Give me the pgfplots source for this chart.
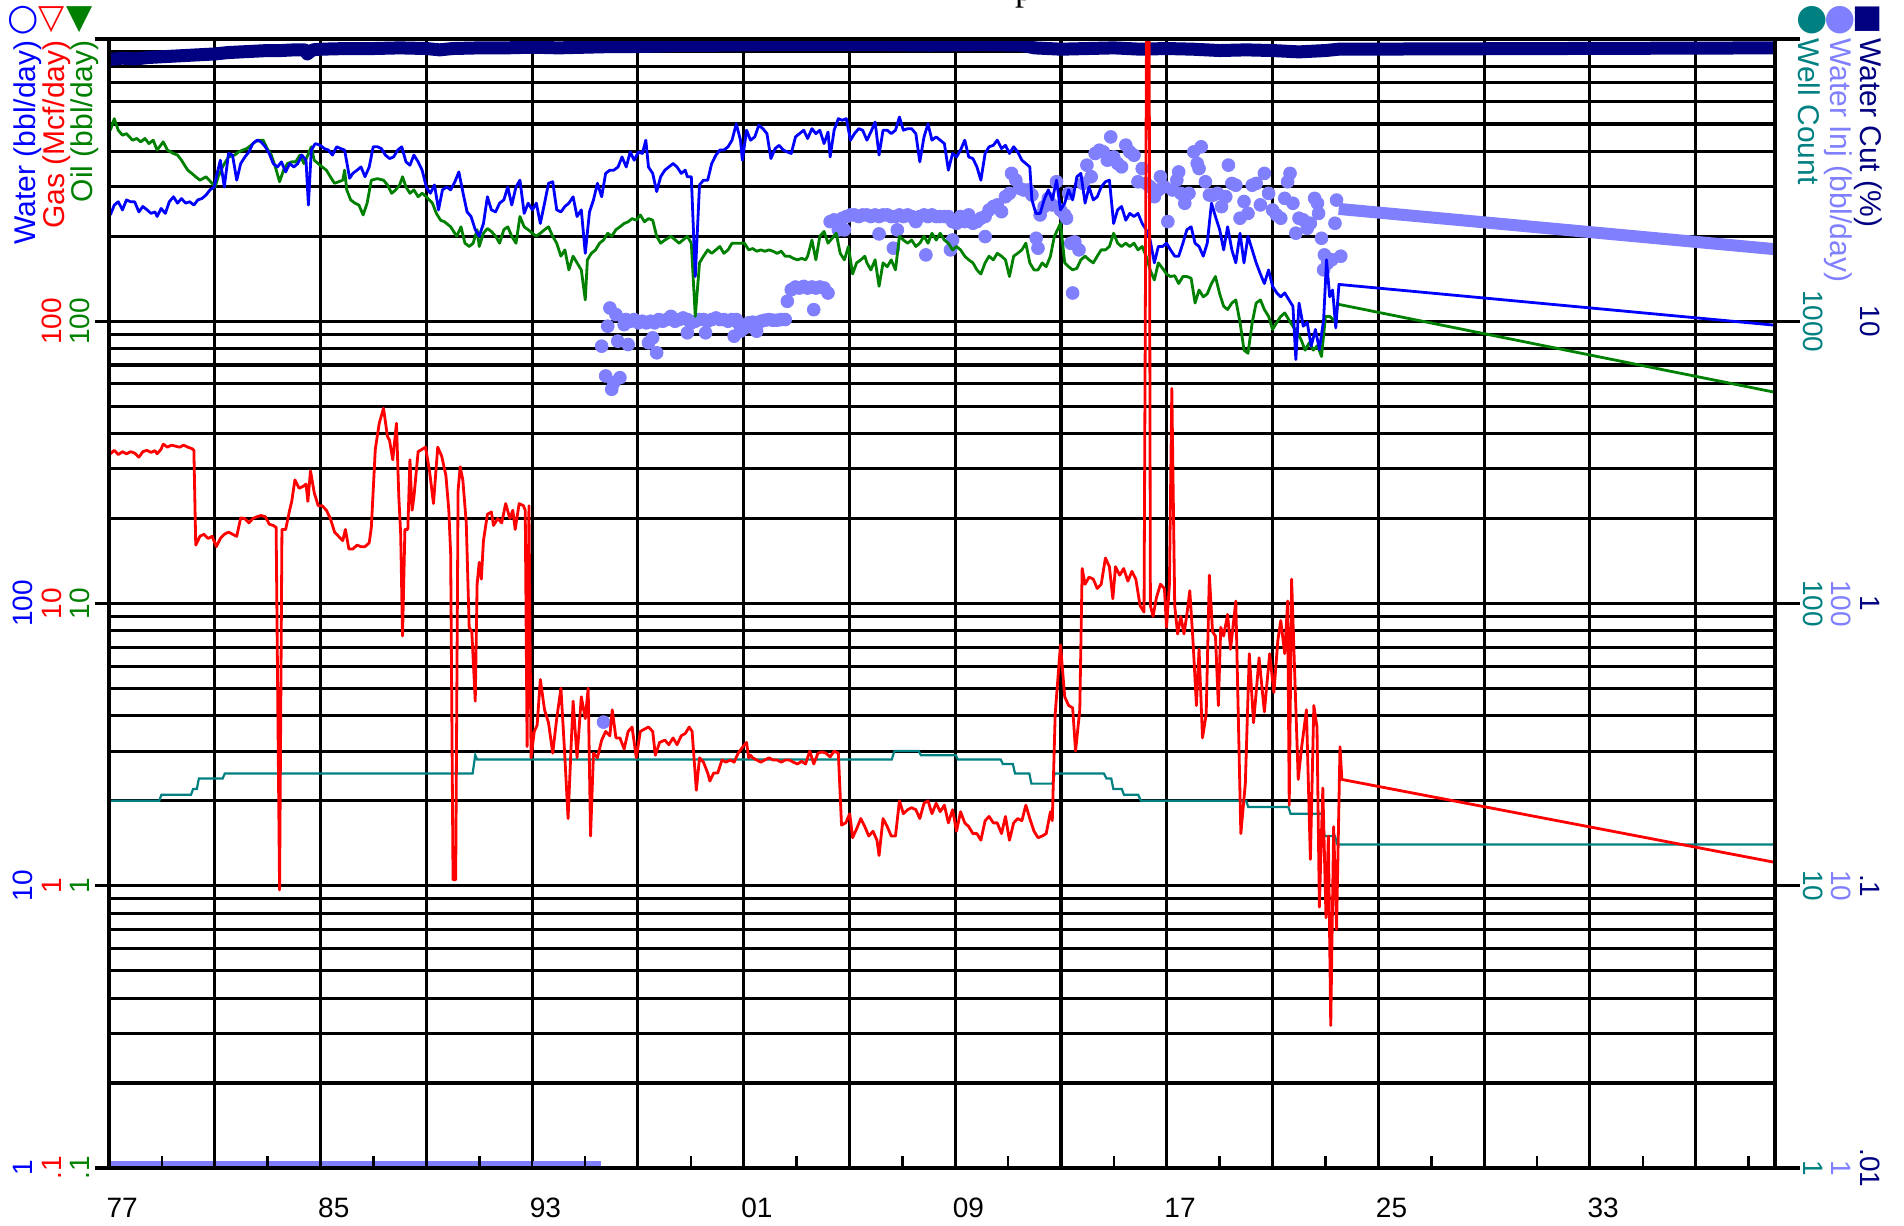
\documentclass[border=0pt]{standalone}
\usepackage{fontspec}
\setmainfont{Liberation Sans}
\newfontfamily\symfont{DejaVu Sans}
\newfontfamily\seriffont{Liberation Serif}
\usepackage{pgfplots}
\usepackage{pgfplotstable}
\pgfplotsset{compat=1.18}

\definecolor{watercol}{RGB}{0,0,255}
\definecolor{gascol}{RGB}{255,0,0}
\definecolor{oilcol}{RGB}{0,128,0}
\definecolor{cutcol}{RGB}{0,0,128}
\definecolor{wellcol}{RGB}{0,128,128}
\definecolor{injcol}{RGB}{128,128,255}

% ---------- production history (year, rate) ----------
\pgfplotstableread{
yr v
1977.05 475
1977.20 522
1977.35 475
1977.51 456
1977.66 462
1977.89 438
1978.05 444
1978.20 432
1978.36 444
1978.51 426
1978.67 438
1978.82 404
1979.05 432
1979.21 404
1979.44 393
1979.59 388
1979.74 372
1979.90 352
1979.98 343
1980.13 334
1980.28 325
1980.44 316
1980.67 325
1980.90 308
1981.01 299
1981.13 325
1981.29 352
1981.52 382
1981.75 388
1981.90 398
1982.06 404
1982.21 409
1982.37 420
1982.52 432
1982.67 438
1982.83 438
1982.98 409
1983.14 388
1983.29 352
1983.45 312
1983.60 343
1983.75 362
1983.91 367
1984.06 367
1984.22 388
1984.37 362
1984.52 388
1984.65 415
1984.76 372
1984.91 362
1985.06 352
1985.22 343
1985.37 325
1985.53 308
1985.68 312
1985.84 316
1985.91 343
1985.99 292
1986.14 269
1986.30 262
1986.45 258
1986.61 238
1986.76 262
1986.92 316
1987.15 320
1987.38 316
1987.53 304
1987.69 284
1987.84 292
1987.99 304
1988.10 325
1988.23 299
1988.38 284
1988.53 292
1988.69 276
1988.84 284
1989.00 276
1989.23 262
1989.38 241
1989.54 228
1989.69 225
1989.92 216
1990.15 200
1990.31 216
1990.46 189
1990.62 184
1990.77 189
1990.92 211
1991.00 184
1991.16 205
1991.31 213
1991.46 208
1991.62 200
1991.77 189
1991.93 211
1992.08 216
1992.23 200
1992.39 189
1992.54 235
1992.70 216
1992.85 211
1993.01 205
1993.16 200
1993.31 205
1993.47 211
1993.62 216
1993.78 200
1993.93 189
1994.09 170
1994.24 179
1994.39 152
1994.55 170
1994.70 161
1994.86 152
1995.01 119
1995.09 165
1995.24 174
1995.40 179
1995.55 189
1995.70 194
1995.86 205
1996.01 200
1996.17 211
1996.32 216
1996.48 222
1996.63 225
1996.78 231
1996.94 228
1997.09 238
1997.25 225
1997.40 231
1997.56 228
1997.71 200
1997.86 189
1998.02 194
1998.25 200
1998.56 189
1998.87 200
1999.02 189
1999.17 104
1999.33 161
1999.48 170
1999.64 179
1999.79 174
1999.95 179
2000.10 184
2000.25 174
2000.41 179
2000.56 189
2000.79 189
2001.03 189
2001.19 179
2001.34 181
2001.49 177
2001.65 179
2001.80 177
2001.96 179
2002.11 177
2002.26 174
2002.42 177
2002.57 170
2002.73 170
2002.88 167
2003.04 165
2003.19 167
2003.34 165
2003.42 170
2003.58 194
2003.73 165
2003.88 200
2004.04 208
2004.19 189
2004.35 197
2004.50 205
2004.65 174
2004.81 165
2004.96 184
2005.12 147
2005.27 161
2005.43 165
2005.58 170
2005.66 161
2005.81 152
2005.97 165
2006.12 133
2006.27 161
2006.43 156
2006.58 165
2006.74 152
2006.89 200
2007.04 194
2007.20 189
2007.35 194
2007.51 184
2007.66 189
2007.82 200
2007.97 189
2008.12 205
2008.28 194
2008.43 205
2008.59 194
2008.74 189
2008.90 179
2009.05 184
2009.20 179
2009.36 170
2009.51 165
2009.67 161
2009.82 152
2009.97 147
2010.13 161
2010.28 170
2010.44 165
2010.59 174
2010.75 170
2010.90 165
2011.05 144
2011.21 170
2011.36 174
2011.52 179
2011.67 189
2011.82 161
2011.98 152
2012.13 152
2012.29 161
2012.44 156
2012.60 170
2012.75 200
2012.98 222
2013.14 161
2013.29 156
2013.44 152
2013.60 154
2013.75 165
2013.91 170
2014.06 165
2014.22 161
2014.37 170
2014.52 179
2014.68 179
2014.83 184
2014.99 205
2015.14 189
2015.29 184
2015.45 189
2015.60 184
2015.76 189
2015.91 179
2016.07 184
2016.22 170
2016.37 152
2016.53 140
2016.68 161
2016.84 154
2016.99 147
2017.14 144
2017.30 145
2017.45 136
2017.61 144
2017.76 144
2017.92 142
2018.07 116
2018.22 129
2018.38 122
2018.53 125
2018.69 136
2018.84 144
2019.00 125
2019.15 113
2019.30 110
2019.46 116
2019.61 119
2019.77 99
2019.92 79
2020.07 77
2020.23 99
2020.38 116
2020.54 119
2020.69 110
2020.85 104
2021.00 93.5
2021.16 99
2021.31 104
2021.46 107
2021.62 101
2021.77 96
2021.93 91
2022.08 86
2022.23 79
2022.39 84
2022.54 79
2022.70 82
2022.85 75
2023.00 104
2023.16 104
2023.31 101
2023.39 99
2023.45 115
2040.00 56
}\oiltab

\pgfplotstableread{
yr v
1977.05 2380
1977.20 2580
1977.35 2650
1977.51 2480
1977.66 2690
1977.82 2650
1977.97 2650
1978.13 2440
1978.28 2550
1978.44 2480
1978.59 2410
1978.74 2440
1978.82 2350
1978.97 2510
1979.13 2410
1979.28 2650
1979.44 2760
1979.59 2620
1979.74 2720
1979.90 2620
1980.05 2650
1980.21 2580
1980.36 2690
1980.51 2720
1980.67 2800
1980.82 2920
1980.98 2990
1981.06 3250
1981.21 3720
1981.36 2990
1981.52 3930
1981.67 3880
1981.83 3160
1981.98 3620
1982.14 3820
1982.29 3980
1982.44 4260
1982.60 4380
1982.75 4320
1982.91 4150
1983.06 3930
1983.21 3620
1983.37 3520
1983.52 3670
1983.68 3380
1983.83 3620
1983.99 3520
1984.14 3620
1984.29 3880
1984.45 3720
1984.54 2580
1984.65 4040
1984.80 4260
1984.99 4200
1985.14 4090
1985.30 4040
1985.45 3880
1985.61 4150
1985.76 4090
1985.91 4040
1986.10 3210
1986.22 3340
1986.38 3430
1986.53 3520
1986.68 3250
1986.84 3520
1986.99 4150
1987.15 4150
1987.30 4090
1987.45 3880
1987.61 3770
1987.76 3820
1987.92 4040
1988.07 4150
1988.23 3670
1988.38 3570
1988.53 3880
1988.69 3670
1988.84 3430
1989.00 2990
1989.15 2840
1989.31 3040
1989.46 2480
1989.61 2920
1989.77 2990
1989.92 2920
1990.08 3120
1990.23 3380
1990.39 2840
1990.54 2440
1990.69 2350
1990.85 2110
1991.00 2000
1991.16 2220
1991.31 2760
1991.46 2480
1991.62 2440
1991.77 2620
1991.93 2690
1992.08 2990
1992.23 2580
1992.39 2990
1992.54 3160
1992.70 2410
1992.85 2620
1993.01 2480
1993.16 2620
1993.31 2220
1993.47 2620
1993.62 3080
1993.78 3120
1993.93 2480
1994.09 2440
1994.24 2550
1994.39 2620
1994.55 2760
1994.70 2350
1994.86 2480
1995.01 1740
1995.17 2440
1995.32 2690
1995.47 3080
1995.63 2760
1995.78 3340
1995.94 3430
1996.09 3430
1996.25 3520
1996.40 3820
1996.56 3520
1996.71 3980
1996.86 3720
1997.02 3980
1997.17 3930
1997.30 4380
1997.40 3520
1997.56 3340
1997.71 2880
1997.86 3250
1998.02 3430
1998.17 3520
1998.33 3620
1998.48 3520
1998.64 3340
1998.79 3430
1998.87 3250
1999.02 3250
1999.17 1440
1999.33 3040
1999.48 3160
1999.64 3160
1999.79 3620
1999.95 3880
2000.10 4040
2000.25 4040
2000.41 4150
2000.56 4380
2000.72 5000
2000.88 4380
2000.95 3720
2001.11 4750
2001.26 4380
2001.42 4500
2001.57 4940
2001.73 4810
2001.88 4620
2002.03 3770
2002.19 4090
2002.34 4200
2002.50 4040
2002.65 3980
2002.80 3930
2002.96 4500
2003.11 4620
2003.27 4750
2003.42 4440
2003.58 4810
2003.73 4620
2003.88 4750
2004.04 4260
2004.19 4680
2004.27 3820
2004.42 4750
2004.58 5220
2004.73 5150
2004.88 5220
2005.04 4380
2005.19 4620
2005.35 4810
2005.50 4750
2005.66 4380
2005.81 4680
2005.97 5080
2006.12 3880
2006.27 4750
2006.43 4750
2006.58 4620
2006.74 4750
2006.89 5290
2007.04 4750
2007.20 4810
2007.35 4810
2007.51 4620
2007.66 3670
2007.82 4500
2007.97 5000
2008.12 4380
2008.28 4500
2008.43 4380
2008.59 4260
2008.74 3430
2008.90 3930
2009.05 3820
2009.20 4040
2009.36 4380
2009.51 3820
2009.67 3770
2009.82 3520
2009.97 3160
2010.13 3930
2010.28 4150
2010.44 4200
2010.59 4380
2010.75 4090
2010.90 4200
2011.05 3930
2011.21 4150
2011.36 3980
2011.52 3720
2011.67 3620
2011.82 3520
2011.90 2690
2012.05 2410
2012.21 2410
2012.36 2690
2012.52 2920
2012.67 2690
2012.83 3160
2012.98 2480
2013.14 2620
2013.29 2920
2013.44 2690
2013.60 3250
2013.75 3340
2013.91 2620
2014.06 2990
2014.22 2690
2014.37 2760
2014.52 2990
2014.68 3120
2014.83 3160
2014.99 2220
2015.14 2480
2015.29 2550
2015.45 2280
2015.60 2410
2015.76 2350
2015.91 2410
2016.07 2220
2016.22 2110
2016.37 1940
2016.53 1610
2016.68 1840
2016.84 1840
2016.99 1890
2017.14 1790
2017.30 1700
2017.45 1700
2017.61 1890
2017.76 2110
2017.92 2160
2018.07 1890
2018.22 1840
2018.38 1700
2018.53 1890
2018.69 2620
2018.84 2350
2019.00 2110
2019.15 1790
2019.30 2160
2019.46 1790
2019.61 1610
2019.77 2050
2019.92 1610
2020.07 2000
2020.23 1790
2020.38 1610
2020.54 1470
2020.69 1360
2020.85 1520
2021.00 1330
2021.16 1260
2021.31 1220
2021.46 1260
2021.62 1190
2021.77 1130
2021.88 732
2022.00 1160
2022.16 960
2022.31 990
2022.46 816
2022.62 935
2022.77 794
2022.93 1010
2023.04 1650
2023.16 1220
2023.27 1290
2023.39 947
2023.51 1350
2040.00 968
}\watertab

\pgfplotstableread{
yr v
1977.05 33.9
1977.20 34.9
1977.35 33.7
1977.51 34.5
1977.66 33.9
1977.82 34.5
1977.97 34.1
1978.13 33.0
1978.28 34.5
1978.43 34.9
1978.59 34.3
1978.74 34.8
1978.82 33.9
1978.97 35.2
1979.05 36.7
1979.21 35.8
1979.36 36.4
1979.51 36.1
1979.67 35.8
1979.82 36.4
1979.98 35.8
1980.13 35.4
1980.21 34.9
1980.28 16.1
1980.44 17.3
1980.59 17.6
1980.75 17.0
1980.90 17.3
1981.06 15.9
1981.21 17.0
1981.36 17.6
1981.52 17.9
1981.67 17.6
1981.83 17.3
1981.98 20.1
1982.13 20.0
1982.29 19.3
1982.44 20.0
1982.60 20.3
1982.75 20.5
1982.91 20.3
1983.06 19.1
1983.21 18.9
1983.32 18.6
1983.45 0.966
1983.54 18.3
1983.68 18.3
1983.83 21.4
1983.91 23.0
1984.03 27.4
1984.19 25.6
1984.34 26.0
1984.45 26.5
1984.52 23.0
1984.62 29.5
1984.76 24.7
1984.91 22.2
1985.06 22.2
1985.22 21.4
1985.37 20.0
1985.53 17.9
1985.68 17.3
1985.84 16.7
1985.94 18.3
1986.07 15.6
1986.22 15.6
1986.38 16.1
1986.53 15.9
1986.68 15.9
1986.84 16.4
1986.92 18.6
1987.07 35.2
1987.22 43.5
1987.38 49.2
1987.53 39.1
1987.61 37.8
1987.73 32.3
1987.87 43.5
1987.96 23.8
1988.03 17.6
1988.10 7.67
1988.19 18.3
1988.30 18.3
1988.38 32.3
1988.46 21.4
1988.53 23.8
1988.69 34.5
1988.84 35.2
1988.97 35.8
1989.12 29.5
1989.27 22.6
1989.43 35.8
1989.58 33.3
1989.74 28.4
1989.85 21.4
1989.92 15.0
1990.01 1.05
1990.11 1.05
1990.20 25.1
1990.28 30.5
1990.38 27.4
1990.51 19.3
1990.62 8.23
1990.72 7.94
1990.85 4.51
1990.92 11.7
1991.00 14.0
1991.08 12.2
1991.16 16.7
1991.31 20.7
1991.46 21.1
1991.54 18.9
1991.70 20.0
1991.85 19.3
1992.00 22.6
1992.16 20.0
1992.27 21.4
1992.36 18.3
1992.51 22.6
1992.67 22.2
1992.74 21.4
1992.81 3.11
1992.88 22.2
1992.96 2.84
1993.08 3.52
1993.19 3.71
1993.31 5.38
1993.47 4.20
1993.62 3.78
1993.78 2.95
1993.93 3.91
1994.09 5.01
1994.24 2.84
1994.36 1.73
1994.47 3.05
1994.55 4.51
1994.70 2.84
1994.86 4.67
1995.01 3.91
1995.12 5.01
1995.21 1.50
1995.32 2.95
1995.47 2.84
1995.63 3.28
1995.78 3.52
1995.94 3.40
1996.03 4.20
1996.17 3.34
1996.32 3.34
1996.48 3.05
1996.63 3.52
1996.78 3.65
1996.94 2.84
1997.09 3.52
1997.25 3.59
1997.40 3.65
1997.56 3.52
1997.66 2.90
1997.82 3.22
1998.02 3.28
1998.17 3.16
1998.33 3.34
1998.48 3.16
1998.64 3.40
1998.79 3.46
1998.94 3.65
1999.05 3.52
1999.21 2.18
1999.33 2.84
1999.48 2.74
1999.64 2.51
1999.72 2.35
1999.87 2.51
2000.02 2.51
2000.18 2.79
2000.33 2.74
2000.49 2.79
2000.64 2.74
2000.79 2.95
2001.03 3.16
2001.11 3.22
2001.19 2.84
2001.26 2.90
2001.34 2.84
2001.49 2.79
2001.65 2.74
2001.80 2.79
2001.96 2.84
2002.11 2.79
2002.26 2.79
2002.42 2.74
2002.57 2.79
2002.73 2.79
2002.88 2.74
2003.04 2.70
2003.19 2.76
2003.34 2.70
2003.50 3.00
2003.65 2.70
2003.81 2.95
2003.96 2.98
2004.11 2.95
2004.27 2.86
2004.42 3.00
2004.58 2.95
2004.70 1.64
2004.86 1.67
2005.01 1.80
2005.12 1.48
2005.27 1.59
2005.43 1.73
2005.58 1.62
2005.73 1.50
2005.89 1.56
2006.04 1.45
2006.12 1.28
2006.27 1.73
2006.43 1.62
2006.58 1.50
2006.74 1.50
2006.89 2.00
2007.04 1.80
2007.20 1.86
2007.35 1.89
2007.51 1.86
2007.66 1.73
2007.82 1.96
2007.97 2.00
2008.12 1.80
2008.28 1.96
2008.43 1.83
2008.59 1.93
2008.74 1.67
2008.90 1.86
2009.05 1.56
2009.20 1.83
2009.36 1.67
2009.51 1.62
2009.67 1.53
2009.82 1.53
2009.97 1.45
2010.13 1.70
2010.28 1.76
2010.44 1.67
2010.59 1.67
2010.75 1.53
2010.90 1.76
2011.05 1.45
2011.21 1.67
2011.36 1.73
2011.52 1.70
2011.67 1.93
2011.82 1.73
2011.98 1.56
2012.13 1.48
2012.29 1.50
2012.44 1.53
2012.60 1.83
2012.67 1.70
2012.78 4.06
2012.98 7.14
2013.14 4.67
2013.29 4.35
2013.44 4.27
2013.55 3.00
2013.71 4.20
2013.80 13.3
2013.91 11.7
2014.06 12.4
2014.22 12.2
2014.37 11.3
2014.52 11.7
2014.68 14.5
2014.83 13.5
2014.96 10.4
2015.06 13.5
2015.22 12.6
2015.37 13.3
2015.53 12.0
2015.68 13.0
2015.83 12.2
2015.99 9.82
2016.14 9.32
2016.24 1500
2016.33 1500
2016.38 9.82
2016.48 9.00
2016.61 10.5
2016.76 11.7
2016.91 11.3
2016.99 8.23
2017.10 11.7
2017.19 57.8
2017.30 9.82
2017.41 7.80
2017.53 9.00
2017.65 7.80
2017.76 9.15
2017.87 11.1
2017.99 7.40
2018.12 4.35
2018.22 6.89
2018.35 3.34
2018.49 4.06
2018.61 12.6
2018.73 7.94
2018.84 7.67
2018.95 4.35
2019.04 8.23
2019.15 7.67
2019.30 9.15
2019.41 6.89
2019.61 10.2
2019.80 1.53
2019.97 2.30
2020.12 6.64
2020.28 3.78
2020.38 4.84
2020.49 6.42
2020.69 4.13
2020.89 6.64
2021.05 4.84
2021.20 7.40
2021.31 8.70
2021.46 6.64
2021.57 10.2
2021.63 1.93
2021.72 12.2
2021.85 5.19
2021.97 2.38
2022.09 3.05
2022.28 4.20
2022.43 1.24
2022.56 4.35
2022.68 3.65
2022.77 0.84
2022.90 2.22
2023.02 0.77
2023.11 1.50
2023.20 0.32
2023.31 1.62
2023.42 0.70
2023.55 3.11
2023.62 2.38
2040.00 1.21
}\gastab

\pgfplotstableread{
yr v
1977.0 84.5
1977.5 85.5
1978.0 85.0
1978.5 86.0
1979.0 86.5
1979.5 87.0
1980.0 87.5
1980.5 88.0
1981.0 88.5
1981.5 89.5
1982.0 90.0
1982.5 90.5
1983.0 91.0
1983.5 91.0
1984.0 91.5
1984.4 91.5
1984.5 88.5
1984.7 91.5
1985.0 92.0
1986.0 92.5
1987.0 92.5
1988.0 93.0
1989.0 92.5
1989.5 91.5
1990.0 92.5
1991.0 93.0
1992.0 93.0
1993.0 93.5
1994.0 93.0
1995.0 93.5
1996.0 94.0
1997.0 94.0
1998.0 94.5
1999.0 95.0
2000.0 95.0
2002.0 95.5
2004.0 95.5
2006.0 95.5
2008.0 95.0
2010.0 95.5
2011.5 95.0
2012.0 93.0
2013.0 92.0
2014.0 92.5
2015.0 93.0
2016.0 92.0
2017.0 92.5
2018.0 92.0
2019.0 91.0
2020.0 91.5
2021.0 91.0
2022.0 90.0
2022.5 90.5
2023.0 91.0
2023.5 92.0
2040.0 93.0
}\cuttab

\pgfplotstableread{
yr v
1977.00 20
1978.90 20
1978.98 21
1980.10 21
1980.18 22
1980.32 22
1980.40 24
1981.30 24
1981.38 25
1990.75 25
1990.85 29
1990.92 28
2006.60 28
2006.70 30
2007.62 30
2007.70 29
2009.02 29
2009.10 28
2010.72 28
2010.80 27
2011.18 27
2011.26 25
2011.80 25
2011.88 23
2012.68 23
2012.76 25
2014.62 25
2014.72 24
2014.90 24
2014.98 22
2015.30 22
2015.38 21
2015.92 21
2016.02 20
2020.00 20
2020.08 19
2021.60 19
2021.68 18
2022.88 18
2022.96 15
2023.36 15
2023.45 14
2040.00 14
}\welltab

\pgfplotstableread{
yr v
1995.70 38
1995.63 816
1995.78 640
1995.86 960
1995.94 1114
1996.01 574
1996.09 606
1996.17 1056
1996.24 850
1996.32 631
1996.48 973
1996.55 1014
1996.63 827
1996.71 1000
1996.86 1014
1997.02 987
1997.17 1000
1997.32 987
1997.40 839
1997.48 1000
1997.56 873
1997.63 987
1997.71 773
1997.79 1014
1997.94 1000
1998.09 1014
1998.25 1041
1998.40 1000
1998.56 1014
1998.71 1027
1998.87 1014
1998.87 910
1999.02 987
1999.17 1000
1999.33 1014
1999.48 1014
1999.56 910
1999.64 1000
1999.79 1014
1999.95 1027
2000.10 1014
2000.25 1014
2000.41 1000
2000.56 1014
2000.64 885
2000.72 1014
2000.79 987
2000.88 922
2001.03 947
2001.19 987
2001.34 992
2001.49 922
2001.65 1000
2001.80 1008
2001.96 1014
2002.11 1008
2002.26 1008
2002.42 1014
2002.57 1014
2002.65 1177
2002.80 1293
2002.96 1322
2003.11 1311
2003.27 1329
2003.42 1311
2003.58 1322
2003.65 1099
2003.73 1311
2003.88 1322
2004.04 1311
2004.19 1259
2004.27 2254
2004.42 2286
2004.58 2224
2004.73 2317
2004.89 2349
2005.04 2380
2005.19 2380
2005.35 2349
2005.50 2380
2005.66 2380
2005.81 2349
2005.97 2380
2006.12 2349
2006.27 2380
2006.43 2380
2006.58 2349
2006.74 2349
2006.89 2380
2007.04 2349
2007.20 2380
2007.35 2349
2007.51 2254
2007.66 2349
2007.82 2380
2007.97 2349
2008.12 2380
2008.28 2349
2008.43 2349
2008.59 2349
2008.74 2349
2008.90 2254
2009.05 2224
2009.20 2349
2009.36 2254
2009.51 2380
2009.67 2224
2009.82 2254
2009.97 2317
2010.13 2349
2004.58 2107
2004.81 2107
2006.12 2039
2006.81 2107
2006.66 1815
2007.89 1718
2008.82 1790
2008.90 1941
2010.13 1995
2010.28 2477
2010.44 2547
2010.59 2583
2010.75 2444
2010.90 2762
2011.05 2838
2011.13 3341
2011.29 3162
2011.44 2955
2011.59 2917
2011.75 2917
2011.90 2800
2012.06 1968
2012.13 1815
2012.21 2380
2012.36 2547
2012.52 2725
2012.67 2583
2012.83 3120
2012.98 2477
2013.14 2380
2013.21 2317
2013.29 2838
2013.37 1889
2013.52 1910
2013.68 1790
2013.44 1259
2013.83 3078
2013.98 3573
2014.14 3251
2014.29 3929
2014.45 4036
2014.60 3981
2014.75 3722
2014.88 4498
2014.99 3822
2015.14 3622
2015.29 3524
2015.45 4206
2015.60 3981
2015.76 3873
2015.91 3120
2016.07 3475
2016.22 3078
2016.37 2993
2016.53 2762
2016.68 2917
2016.76 3251
2016.91 2993
2017.04 2254
2017.22 2917
2017.38 3162
2017.45 3381
2017.53 2838
2017.68 2618
2017.84 2838
2018.02 3981
2018.15 3622
2018.22 3475
2018.30 4150
2018.46 3120
2018.61 2800
2018.76 2800
2018.92 2838
2019.07 2547
2019.23 2762
2019.33 3573
2019.46 3078
2019.61 3034
2019.77 2317
2019.92 2655
2020.07 2410
2020.23 3034
2020.38 3078
2020.54 2583
2020.69 3341
2020.85 2838
2021.00 2477
2021.15 2380
2021.31 2317
2021.46 2725
2021.57 3120
2021.66 3341
2021.77 2618
2021.88 2051
2022.00 2317
2022.16 2286
2022.31 2134
2022.43 2224
2022.59 2725
2022.70 2618
2022.74 2410
2022.85 1968
2022.93 1521
2022.96 1718
2023.08 1607
2023.24 1652
2023.36 2224
2023.42 2687
2023.58 1700
}\injtab

\begin{document}
\begin{tikzpicture}
\path[use as bounding box] (0,0) rectangle (952pt,612.5pt);

% grid
\begin{axis}[at={(54.5pt,28.5pt)}, anchor=south west,
  width=833pt, height=564.5pt, scale only axis,
  xmin=1977, xmax=2040, ymode=log, ymin=0.1, ymax=1000,
  axis line style={draw=none}, tick style={draw=none},
  xtick={1981,1985,...,2037}, xticklabels={},
  ytick={0.1,1,10,100,1000}, yticklabels={},
  minor ytick={0.2,0.3,0.4,0.5,0.6,0.7,0.8,0.9,2,3,4,5,6,7,8,9,20,30,40,50,60,70,80,90,200,300,400,500,600,700,800,900},
  grid=both,
  major grid style={black, line width=1.55pt},
  minor grid style={black, line width=1.55pt},
]
\addplot[draw=none] coordinates {(1977,1) (2040,1)};
\end{axis}

% water injection (bbl/day) and well count
\begin{axis}[at={(54.5pt,28.5pt)}, anchor=south west,
  width=833pt, height=564.5pt, scale only axis,
  xmin=1977, xmax=2040, ymode=log, ymin=1, ymax=10000, hide axis]
\addplot[injcol, line width=6.5pt] coordinates {(1977,1) (1995.6,1)};
\addplot[injcol, only marks, mark=*, mark size=3.2pt] table {\injtab};
\addplot[injcol, line width=6pt] coordinates {(2023.5,2500) (2040,1800)};
\addplot[wellcol, line width=1.1pt] table {\welltab};
\end{axis}

% water cut (%)
\begin{axis}[at={(54.5pt,28.5pt)}, anchor=south west,
  width=833pt, height=564.5pt, scale only axis,
  xmin=1977, xmax=2040, ymode=log, ymin=0.01, ymax=100, hide axis]
\addplot[cutcol, line width=6.5pt, line join=round] table {\cuttab};
\end{axis}

% oil (bbl/day)
\begin{axis}[at={(54.5pt,28.5pt)}, anchor=south west,
  width=833pt, height=564.5pt, scale only axis,
  xmin=1977, xmax=2040, ymode=log, ymin=0.1, ymax=1000, hide axis]
\addplot[oilcol, line width=1.4pt, line join=round] table {\oiltab};
\end{axis}

% water (bbl/day)
\begin{axis}[at={(54.5pt,28.5pt)}, anchor=south west,
  width=833pt, height=564.5pt, scale only axis,
  xmin=1977, xmax=2040, ymode=log, ymin=1, ymax=10000, hide axis]
\addplot[watercol, line width=1.4pt, line join=round] table {\watertab};
\end{axis}

% gas (Mcf/day)
\begin{axis}[at={(54.5pt,28.5pt)}, anchor=south west,
  width=833pt, height=564.5pt, scale only axis,
  xmin=1977, xmax=2040, ymode=log, ymin=0.1, ymax=1000, hide axis]
\addplot[gascol, line width=1.4pt, line join=round] table {\gastab};
\end{axis}

% frame, time ticks and year labels
\begin{axis}[at={(54.5pt,28.5pt)}, anchor=south west,
  width=833pt, height=564.5pt, scale only axis,
  xmin=1977, xmax=2040, ymode=log, ymin=0.1, ymax=1000,
  axis line style={black, line width=2pt},
  xtick={1977.5,1985.5,...,2033.5},
  xticklabels={77,85,93,01,09,17,25,33},
  minor xtick={1979,1981,...,2039},
  major tick length=0pt, minor tick length=6pt,
  minor tick style={black, line width=1.3pt},
  xtick pos=bottom, tick align=inside,
  ytick=\empty,
  xticklabel style={anchor=center, yshift=-20pt, font=\fontsize{14}{14}\selectfont},
]
\addplot[draw=none] coordinates {(1977,1) (2040,1)};
\end{axis}

% decade ticks outside the frame
\foreach \yy in {28.5,169.625,310.75,451.875,593} {
  \draw[line width=1.55pt] (47.5pt,\yy pt) -- (54.5pt,\yy pt);
  \draw[line width=1.55pt] (887.5pt,\yy pt) -- (900pt,\yy pt);
}

% left scale labels
\begin{scope}[every node/.style={inner sep=0pt, rotate=90, font=\fontsize{14}{14}\selectfont}]
\node[text=watercol] at (11.25pt,310.75pt) {100};
\node[text=watercol] at (11.25pt,169.625pt) {10};
\node[text=watercol] at (11.25pt,28.5pt) {1};
\node[text=gascol] at (26pt,451.875pt) {100};
\node[text=gascol] at (26pt,310.75pt) {10};
\node[text=gascol] at (26pt,169.625pt) {1};
\node[text=gascol] at (26pt,28.5pt) {.1};
\node[text=oilcol] at (40pt,451.875pt) {100};
\node[text=oilcol] at (40pt,310.75pt) {10};
\node[text=oilcol] at (40pt,169.625pt) {1};
\node[text=oilcol] at (40pt,28.5pt) {.1};
\end{scope}
\begin{scope}[every node/.style={inner sep=0pt, rotate=90, anchor=east, font=\fontsize{15}{15}\selectfont}]
\node[text=watercol] at (14pt,592.5pt) {Water (bbl/day)};
\node[text=gascol] at (28.5pt,592.5pt) {Gas (Mcf/day)};
\node[text=oilcol] at (42.5pt,592.5pt) {Oil (bbl/day)};
\end{scope}

% right scale labels
\begin{scope}[every node/.style={inner sep=0pt, rotate=-90, font=\fontsize{14}{14}\selectfont}]
\node[text=wellcol] at (906.5pt,451.875pt) {1000};
\node[text=wellcol] at (906.5pt,310.75pt) {100};
\node[text=wellcol] at (906.5pt,169.625pt) {10};
\node[text=wellcol] at (906.5pt,28.5pt) {1};
\node[text=injcol] at (920.5pt,310.75pt) {100};
\node[text=injcol] at (920.5pt,169.625pt) {10};
\node[text=injcol] at (920.5pt,28.5pt) {1};
\node[text=cutcol] at (935pt,451.875pt) {10};
\node[text=cutcol] at (935pt,310.75pt) {1};
\node[text=cutcol] at (935pt,169.625pt) {.1};
\node[text=cutcol] at (935pt,28.5pt) {.01};
\end{scope}
\begin{scope}[every node/.style={inner sep=0pt, rotate=-90, anchor=west, font=\fontsize{15}{15}\selectfont}]
\node[text=cutcol] at (934pt,593.5pt) {Water Cut (\%)};
\node[text=injcol] at (919pt,593.5pt) {Water Inj (bbl/day)};
\node[text=wellcol] at (904.5pt,593.5pt) {Well Count};
\end{scope}

% series symbols
\begin{scope}[every node/.style={inner sep=0pt}]
\node[text=watercol, font=\symfont\fontsize{18}{18}\selectfont] at (11.5pt,602.5pt) {○};
\node[text=gascol, font=\symfont\fontsize{17}{17}\selectfont] at (26pt,602.5pt) {▽};
\node[text=oilcol, font=\symfont\fontsize{17}{17}\selectfont] at (40pt,602.5pt) {▼};
\node[text=wellcol, font=\symfont\fontsize{18}{18}\selectfont] at (906pt,602.5pt) {●};
\node[text=injcol, font=\symfont\fontsize{18}{18}\selectfont] at (920pt,602.5pt) {●};
\node[text=cutcol, font=\symfont\fontsize{16}{16}\selectfont] at (934pt,603pt) {■};
\end{scope}

% title (runs above the page edge)
\node[anchor=base, inner sep=0pt, font=\seriffont\fontsize{18}{18}\selectfont] at (512pt,612pt) {p};
\end{tikzpicture}
\end{document}
